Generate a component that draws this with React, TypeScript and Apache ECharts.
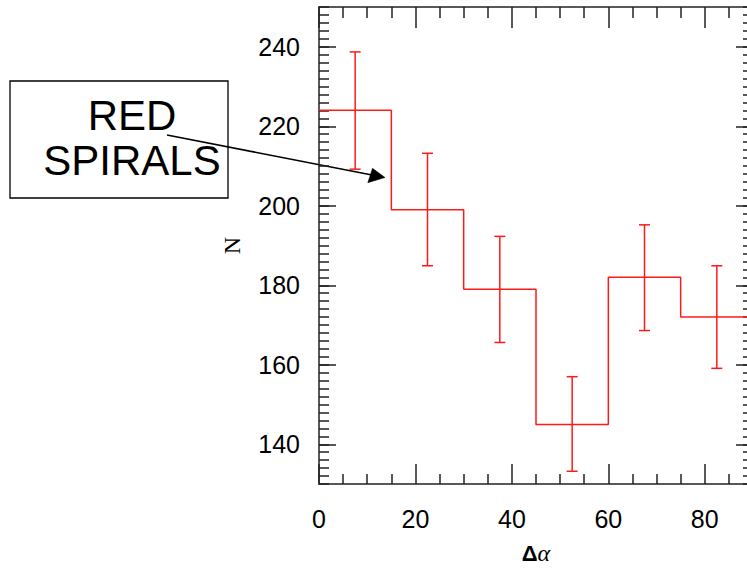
import React, { useEffect, useRef } from 'react';
import * as echarts from 'echarts';

// ---- data ----
const binEdges = [0, 15, 30, 45, 60, 75, 90];
const binCenters = [7.5, 22.5, 37.5, 52.5, 67.5, 82.5];
const counts = [224, 199, 179, 145, 182, 172];
const errLow = [209.2, 184.9, 165.6, 133.2, 168.6, 159.1];
const errHigh = [238.7, 213.2, 192.3, 157, 195.2, 184.9];

const xTickLabels = [0, 20, 40, 60, 80];
const xMinorTicks = [5, 10, 15, 25, 30, 35, 45, 50, 55, 65, 70, 75, 85];
const yTickLabels = [140, 160, 180, 200, 220, 240];

const X_MIN = 0;
const X_MAX = 90;
const Y_MIN = 130;
const Y_MAX = 250;

const yMinorTicks: number[] = [];
for (let v = Y_MIN; v <= Y_MAX; v += 2) yMinorTicks.push(v);

const AXIS_COLOR = '#222';
const RED = '#ff1a1a';

export default function App() {
  const ref = useRef<HTMLDivElement>(null);

  useEffect(() => {
    if (!ref.current) return;
    const chart = echarts.init(ref.current, undefined, { renderer: 'svg' });

    // histogram outline as explicit step points built from bins
    const stepPts: number[][] = [];
    counts.forEach((c, i) => {
      stepPts.push([binEdges[i], c]);
      stepPts.push([binEdges[i + 1], c]);
    });

    const errData = binCenters.map((c, i) => [c, errLow[i], errHigh[i]]);

    const lineStyle = { color: AXIS_COLOR, width: 1.5 };

    const xBase = {
      type: 'value' as const,
      min: X_MIN,
      max: X_MAX,
      splitLine: { show: false },
    };
    const yBase = {
      type: 'value' as const,
      min: Y_MIN,
      max: Y_MAX,
      splitLine: { show: false },
    };

    const option: any = {
      animation: false,
      backgroundColor: '#fff',
      grid: {
        left: 319,
        top: 7,
        width: 434,
        height: 477,
        containLabel: false,
        outerBoundsMode: 'none',
      },
      xAxis: [
        {
          ...xBase,
          position: 'bottom',
          axisLine: { show: true, onZero: false, lineStyle },
          axisTick: { show: true, inside: true, length: 20, customValues: xTickLabels, lineStyle },
          axisLabel: {
            show: true,
            customValues: xTickLabels,
            fontSize: 25,
            fontFamily: 'Liberation Sans, Arial, sans-serif',
            color: '#000',
            margin: 22,
          },
          name: '{d|Δ}{a|α}',
          nameLocation: 'middle',
          nameGap: 57,
          nameTextStyle: {
            color: '#000',
            rich: {
              d: { fontSize: 22, fontFamily: 'Liberation Sans, Arial, sans-serif', fontWeight: 'bold', color: '#000' },
              a: { fontSize: 24, fontFamily: 'Liberation Serif, serif', fontStyle: 'italic', color: '#000' },
            },
          },
        },
        {
          ...xBase,
          position: 'bottom',
          axisLine: { show: false, onZero: false },
          axisTick: { show: true, inside: true, length: 10, customValues: xMinorTicks, lineStyle },
          axisLabel: { show: false },
        },
        {
          ...xBase,
          position: 'top',
          axisLine: { show: true, onZero: false, lineStyle },
          axisTick: { show: true, inside: true, length: 21, customValues: xTickLabels, lineStyle },
          axisLabel: { show: false },
        },
        {
          ...xBase,
          position: 'top',
          axisLine: { show: false, onZero: false },
          axisTick: { show: true, inside: true, length: 11, customValues: xMinorTicks, lineStyle },
          axisLabel: { show: false },
        },
      ],
      yAxis: [
        {
          ...yBase,
          position: 'left',
          axisLine: { show: true, onZero: false, lineStyle },
          axisTick: { show: true, inside: true, length: 17, customValues: yTickLabels, lineStyle },
          axisLabel: {
            show: true,
            customValues: yTickLabels,
            fontSize: 25,
            fontFamily: 'Liberation Sans, Arial, sans-serif',
            color: '#000',
            margin: 19,
          },
          name: 'N',
          nameLocation: 'middle',
          nameGap: 75,
          nameRotate: 90,
          nameTextStyle: { fontSize: 24, fontFamily: 'Liberation Serif, serif', color: '#000' },
        },
        {
          ...yBase,
          position: 'left',
          axisLine: { show: false, onZero: false },
          axisTick: { show: true, inside: true, length: 10, customValues: yMinorTicks, lineStyle },
          axisLabel: { show: false },
        },
        {
          ...yBase,
          position: 'right',
          axisLine: { show: true, onZero: false, lineStyle },
          axisTick: { show: true, inside: true, length: 17, customValues: yTickLabels, lineStyle },
          axisLabel: { show: false },
        },
        {
          ...yBase,
          position: 'right',
          axisLine: { show: false, onZero: false },
          axisTick: { show: true, inside: true, length: 10, customValues: yMinorTicks, lineStyle },
          axisLabel: { show: false },
        },
      ],
      series: [
        {
          type: 'line',
          xAxisIndex: 0,
          yAxisIndex: 0,
          data: stepPts,
          symbol: 'none',
          lineStyle: { color: RED, width: 1.5 },
          silent: true,
        },
        {
          type: 'custom',
          xAxisIndex: 0,
          yAxisIndex: 0,
          data: errData,
          encode: { x: 0, y: [1, 2] },
          silent: true,
          renderItem: (params: any, api: any) => {
            const x = api.value(0);
            const lo = api.coord([x, api.value(1)]);
            const hi = api.coord([x, api.value(2)]);
            const cap = 5.5;
            const st = { stroke: RED, lineWidth: 1.5 };
            return {
              type: 'group',
              children: [
                { type: 'line', shape: { x1: lo[0], y1: lo[1], x2: hi[0], y2: hi[1] }, style: st },
                { type: 'line', shape: { x1: lo[0] - cap, y1: lo[1], x2: lo[0] + cap, y2: lo[1] }, style: st },
                { type: 'line', shape: { x1: hi[0] - cap, y1: hi[1], x2: hi[0] + cap, y2: hi[1] }, style: st },
              ],
            };
          },
        },
      ],
      graphic: [
        {
          type: 'rect',
          shape: { x: 10, y: 81, width: 218, height: 117 },
          style: { fill: 'none', stroke: '#000', lineWidth: 1.3 },
        },
        {
          type: 'text',
          x: 132,
          y: 115,
          style: {
            text: 'RED',
            fontSize: 42,
            fontFamily: 'Liberation Sans, Arial, sans-serif',
            fill: '#000',
            textAlign: 'center',
            textVerticalAlign: 'middle',
          },
        },
        {
          type: 'text',
          x: 132,
          y: 160,
          style: {
            text: 'SPIRALS',
            fontSize: 42,
            fontFamily: 'Liberation Sans, Arial, sans-serif',
            fill: '#000',
            textAlign: 'center',
            textVerticalAlign: 'middle',
          },
        },
        {
          type: 'line',
          shape: { x1: 167, y1: 135, x2: 372, y2: 175 },
          style: { stroke: '#000', lineWidth: 1.5 },
        },
        {
          type: 'polygon',
          shape: { points: [[385, 177.5], [372.5, 168.3], [367.8, 182.7]] },
          style: { fill: '#000', stroke: '#000', lineWidth: 0.5 },
        },
      ],
    };

    chart.setOption(option);
    return () => chart.dispose();
  }, []);

  return (
    <div
      ref={ref}
      style={{ position: 'fixed', left: 0, top: 0, width: 747, height: 570, background: '#fff' }}
    />
  );
}
